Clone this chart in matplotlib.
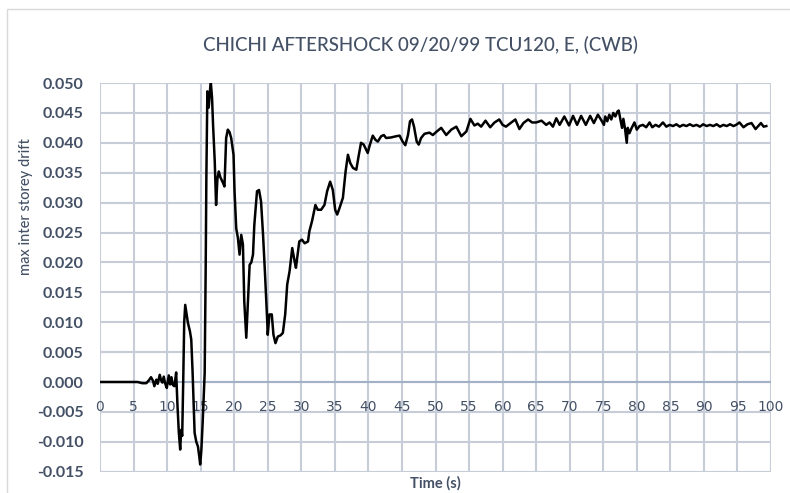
import matplotlib
matplotlib.use("Agg")
import matplotlib.pyplot as plt
from matplotlib.patches import Rectangle

# Time history of the maximum inter-storey drift
time_s = [
    0.0, 5.6, 6.3, 6.9, 7.3, 7.6, 7.9, 8.1, 8.4, 8.6, 8.9, 9.1, 9.3, 9.5, 9.7,
    9.95, 10.25, 10.45, 10.65, 10.85, 11.1, 11.35, 11.55, 11.75, 11.95, 12.1,
    12.25, 12.4, 12.55, 12.7, 12.85, 13.1, 13.4, 13.6, 13.8, 14.1, 14.35, 14.6,
    14.8, 14.93, 15.1, 15.3, 15.6, 15.75, 15.85, 16.0, 16.2, 16.35, 16.5, 16.7,
    16.85, 17.1, 17.3, 17.5, 17.7, 17.95, 18.25, 18.55, 18.8, 19.05, 19.3,
    19.55, 19.9, 20.05, 20.3, 20.55, 20.8, 21.05, 21.3, 21.5, 21.8, 22.0, 22.3,
    22.55, 22.8, 23.0, 23.4, 23.7, 24.0, 24.3, 24.6, 24.9, 25.0, 25.25, 25.6,
    25.85, 26.15, 26.5, 26.9, 27.25, 27.6, 27.9, 28.25, 28.65, 29.0, 29.2, 29.7,
    30.1, 30.5, 31.0, 31.2, 31.6, 32.1, 32.45, 32.95, 33.45, 33.85, 34.3, 34.7,
    35.05, 35.35, 35.7, 36.2, 36.6, 36.95, 37.3, 37.7, 38.2, 38.5, 38.9, 39.3,
    39.9, 40.15, 40.65, 41.05, 41.4, 41.9, 42.3, 42.65, 43.4, 44.15, 44.65, 45.1,
    45.5, 45.9, 46.2, 46.5, 46.8, 47.2, 47.5, 47.85, 48.35, 49.1, 49.6, 50.2,
    50.85, 51.6, 52.35, 53.1, 53.85, 54.6, 55.2, 55.8, 56.3, 56.8, 57.45, 58.15,
    58.8, 59.5, 60.0, 60.5, 61.3, 61.9, 62.5, 63.1, 63.8, 64.4, 65.0, 65.8, 66.5,
    67.0, 67.5, 68.0, 68.5, 69.2, 69.9, 70.5, 71.1, 71.7, 72.4, 73.05, 73.6,
    74.2, 74.7, 75.1, 75.3, 75.6, 75.9, 76.2, 76.5, 76.8, 77.1, 77.3, 77.55,
    77.8, 78.0, 78.25, 78.5, 78.65, 78.9, 79.2, 79.65, 80.0, 80.4, 80.9, 81.4,
    81.9, 82.3, 82.8, 83.3, 83.9, 84.4, 84.9, 85.4, 85.9, 86.4, 86.9, 87.4,
    87.9, 88.4, 88.9, 89.4, 89.9, 90.4, 90.9, 91.4, 91.9, 92.4, 92.9, 93.4,
    93.9, 94.4, 94.8, 95.3, 95.9, 96.5, 97.1, 97.7, 98.5, 98.9, 99.3,
]
drift = [
    0.0, 0.0, -0.0002, -0.0002, 0.0003, 0.0008, 0.0002, -0.0007, 0.0004,
    -0.0003, 0.0012, 0.0003, -0.0001, 0.0009, -0.0002, -0.0010, 0.0011,
    -0.0004, 0.0008, -0.0005, -0.0007, 0.0016, -0.0040, -0.0085, -0.0113,
    -0.0080, -0.0090, 0.0000, 0.0100, 0.0129, 0.0118, 0.0099, 0.0085, 0.0071,
    0.0016, -0.0085, -0.0100, -0.0108, -0.0125, -0.0138, -0.0115, -0.0068,
    0.0015, 0.0190, 0.0341, 0.0486, 0.0459, 0.0480, 0.0503, 0.0475, 0.0430,
    0.0369, 0.0296, 0.0340, 0.0352, 0.0342, 0.0335, 0.0327, 0.0408, 0.0422,
    0.0418, 0.0408, 0.0380, 0.0319, 0.0257, 0.0241, 0.0213, 0.0246, 0.0230,
    0.0135, 0.0074, 0.0124, 0.0196, 0.0200, 0.0213, 0.0263, 0.0319, 0.0321,
    0.0302, 0.0246, 0.0179, 0.0107, 0.0079, 0.0113, 0.0113, 0.0079, 0.0065,
    0.0076, 0.0078, 0.0082, 0.0113, 0.0163, 0.0185, 0.0224, 0.0202, 0.0191,
    0.0235, 0.0238, 0.0232, 0.0235, 0.0252, 0.0269, 0.0296, 0.0288, 0.0288,
    0.0296, 0.0319, 0.0335, 0.0321, 0.0288, 0.0280, 0.0291, 0.0308, 0.0352,
    0.0380, 0.0366, 0.0358, 0.0355, 0.0375, 0.0400, 0.0397, 0.0383, 0.0394,
    0.0412, 0.0405, 0.0402, 0.0411, 0.0413, 0.0408, 0.0409, 0.0411, 0.0412,
    0.0402, 0.0396, 0.0413, 0.0436, 0.0439, 0.0427, 0.0402, 0.0397, 0.0408,
    0.0415, 0.0417, 0.0413, 0.0419, 0.0425, 0.0413, 0.0422, 0.0427, 0.0411,
    0.0419, 0.0440, 0.0429, 0.0432, 0.0427, 0.0437, 0.0426, 0.0434, 0.0439,
    0.0430, 0.0427, 0.0434, 0.0439, 0.0423, 0.0433, 0.0439, 0.0434, 0.0434,
    0.0437, 0.0430, 0.0434, 0.0427, 0.0441, 0.0430, 0.0444, 0.0429, 0.0445,
    0.0430, 0.0445, 0.0430, 0.0445, 0.0433, 0.0447, 0.0438, 0.0430, 0.0444,
    0.0436, 0.0447, 0.0439, 0.0450, 0.0444, 0.0452, 0.0454, 0.0439, 0.0425,
    0.0440, 0.0423, 0.0400, 0.0425, 0.0416, 0.0424, 0.0434, 0.0422, 0.0428,
    0.0430, 0.0426, 0.0434, 0.0426, 0.0430, 0.0427, 0.0434, 0.0427, 0.0430,
    0.0428, 0.0431, 0.0427, 0.0430, 0.0428, 0.0431, 0.0428, 0.0430, 0.0427,
    0.0431, 0.0428, 0.0430, 0.0428, 0.0431, 0.0427, 0.0430, 0.0428, 0.0431,
    0.0428, 0.0430, 0.0434, 0.0426, 0.0431, 0.0433, 0.0423, 0.0433, 0.0427,
    0.0428,
]

x_ticks = list(range(0, 101, 5))
y_ticks = [round(-0.015 + 0.005 * i, 3) for i in range(14)]

title = "CHICHI AFTERSHOCK 09/20/99 TCU120, E, (CWB)"
x_label = "Time (s)"
y_label = "max inter storey drift"

TEXT = "#435065"
GRID = "#c6cdd9"
AXIS = "#a3b1c7"
FONT = ["Lato", "DejaVu Sans"]

W, H = 790, 493
fig = plt.figure(figsize=(W / 100, H / 100), dpi=100)
fig.patch.set_facecolor("white")

# light chart-area frame
fig.patches.append(Rectangle((7 / W, -0.01), 1.0, 1 - 9 / H + 0.01,
                             transform=fig.transFigure, fill=False,
                             edgecolor="#d9d9d9", linewidth=1.0))

ax = fig.add_axes([100 / W, 1 - 471.7 / H, (771 - 100) / W, (471.7 - 83) / H])
ax.set_xlim(0, 100)
ax.set_ylim(-0.015, 0.050)

# gridlines drawn explicitly at every tick position
for xv in x_ticks:
    ax.axvline(xv, color=GRID, linewidth=1.5, zorder=1)
for yv in y_ticks:
    ax.axhline(yv, color=GRID, linewidth=1.5, zorder=1)
ax.axhline(0, color=AXIS, linewidth=1.5, zorder=2)

ax.set_xticks(x_ticks)
ax.set_yticks(y_ticks)
ax.set_xticklabels([str(v) for v in x_ticks])
ax.set_yticklabels([f"{v:.3f}" for v in y_ticks])

for side in ("top", "right", "left", "bottom"):
    ax.spines[side].set_visible(False)

ax.tick_params(axis="both", length=0, labelcolor=TEXT)
ax.tick_params(axis="y", pad=12)
for lab in ax.get_xticklabels() + ax.get_yticklabels():
    lab.set_fontfamily(FONT)
    lab.set_fontweight("bold")
    lab.set_fontsize(11.5)

# x tick labels sit just under the zero line
ax.xaxis.set_ticks_position("bottom")
ax.spines["bottom"].set_position(("data", 0))
ax.tick_params(axis="x", pad=13)

ax.plot(time_s, drift, color="black", linewidth=1.8, zorder=3)

fig.text(420 / W, 1 - 45 / H, title, ha="center", va="center",
         fontsize=13.5, fontweight="medium", color=TEXT, family=FONT)
fig.text(435 / W, 1 - 483 / H, x_label, ha="center", va="center",
         fontsize=10.5, fontweight="bold", color=TEXT, family=FONT)
fig.text(26 / W, 1 - 207 / H, y_label, ha="center", va="center",
         rotation=90, fontsize=10.5, fontweight="medium", color=TEXT,
         family=FONT)

fig.savefig("out.png", dpi=100)
